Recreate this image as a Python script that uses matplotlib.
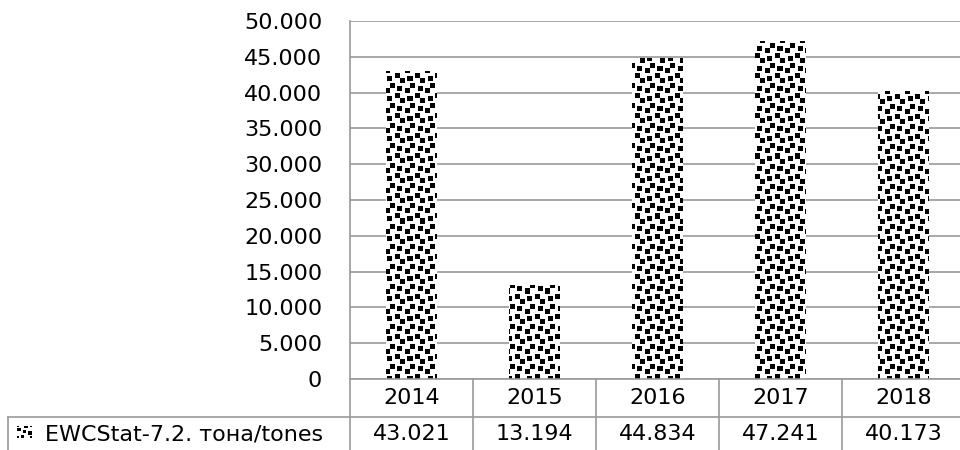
import numpy as np
import matplotlib
matplotlib.use("Agg")
import matplotlib.pyplot as plt
from matplotlib.lines import Line2D
from matplotlib.transforms import blended_transform_factory

years = ["2014", "2015", "2016", "2017", "2018"]
values = [43021, 13194, 44834, 47241, 40173]
series_name = "EWCStat-7.2. тона/tones"
y_ticks = [0, 5000, 10000, 15000, 20000, 25000, 30000, 35000, 40000, 45000, 50000]

W, H = 960, 450
GRID = "#9a9a9a"
plt.rcParams["font.family"] = ["DejaVu Sans"]
FS = 16


def fmt(v):
    return f"{v:,.0f}".replace(",", ".")


# 8x8 "large confetti" fill tile
tile_rows = [0x8d, 0x0c, 0xc0, 0xd8, 0x1b, 0x03, 0x30, 0xb1]
tile = np.array([[(r >> (7 - b)) & 1 for b in range(8)] for r in tile_rows])
tex = 1 - np.tile(tile, (30, 45))  # 1 = white, 0 = black
px = 2.5  # screen pixels per tile bit

fig = plt.figure(figsize=(W / 100, H / 100), dpi=100)
ax_l, ax_r, ax_t, ax_b = 350, 965, 21, 379
ax = fig.add_axes([ax_l / W, 1 - ax_b / H, (ax_r - ax_l) / W, (ax_b - ax_t) / H])

x = np.arange(len(years))
bars = ax.bar(x, values, width=0.41, color="white", edgecolor="none", zorder=2)

aw, ah = ax_r - ax_l, ax_b - ax_t
for b in bars:
    im = ax.imshow(tex, cmap="gray", vmin=0, vmax=1, interpolation="nearest",
                   extent=[0, tex.shape[1] * px / aw, 0, tex.shape[0] * px / ah],
                   transform=ax.transAxes, aspect="auto", zorder=3)
    im.set_clip_path(b)
ax.set_xlim(-0.5, len(years) - 0.5)
ax.set_ylim(0, 50000)

ax.set_yticks(y_ticks)
ax.set_yticklabels([fmt(v) for v in y_ticks], fontsize=FS)
ax.tick_params(axis="y", length=0, pad=20)
ax.set_xticks([])
ax.set_axisbelow(True)
ax.grid(axis="y", color=GRID, linewidth=1.2)
for s in ["top", "right", "bottom"]:
    ax.spines[s].set_visible(False)
ax.spines["left"].set_color(GRID)
ax.spines["left"].set_linewidth(1.2)

# data table below the plot
tr = blended_transform_factory(ax.transData, fig.transFigure)
fy = lambda p: 1 - p / H
row1_top, row1_bot, row2_bot = ax_b, 417, 452
fig.add_artist(Line2D([ax_l / W, 1.05], [fy(row1_top), fy(row1_top)], color=GRID, lw=1.2))
fig.add_artist(Line2D([8 / W, 1.05], [fy(row1_bot), fy(row1_bot)], color=GRID, lw=1.2))
fig.add_artist(Line2D([8 / W, 8 / W], [fy(row1_bot), fy(row2_bot)], color=GRID, lw=1.2))
for i in range(len(years)):
    fig.add_artist(Line2D([i - 0.5, i - 0.5], [fy(row1_top), fy(row2_bot)],
                          color=GRID, lw=1.2, transform=tr))
    fig.text(i, fy((row1_top + row1_bot) / 2), years[i], transform=tr,
             ha="center", va="center", fontsize=FS)
    fig.text(i, fy(434), fmt(values[i]), transform=tr,
             ha="center", va="center", fontsize=FS)
fig.text(45 / W, fy(434), series_name, ha="left", va="center", fontsize=FS)

key = fig.add_axes([17 / W, fy(438), 15 / W, 12 / H])
key.imshow(1 - tile, cmap="gray", vmin=0, vmax=1,
           interpolation="nearest", aspect="auto")
key.axis("off")

fig.savefig("out.png", dpi=100)
